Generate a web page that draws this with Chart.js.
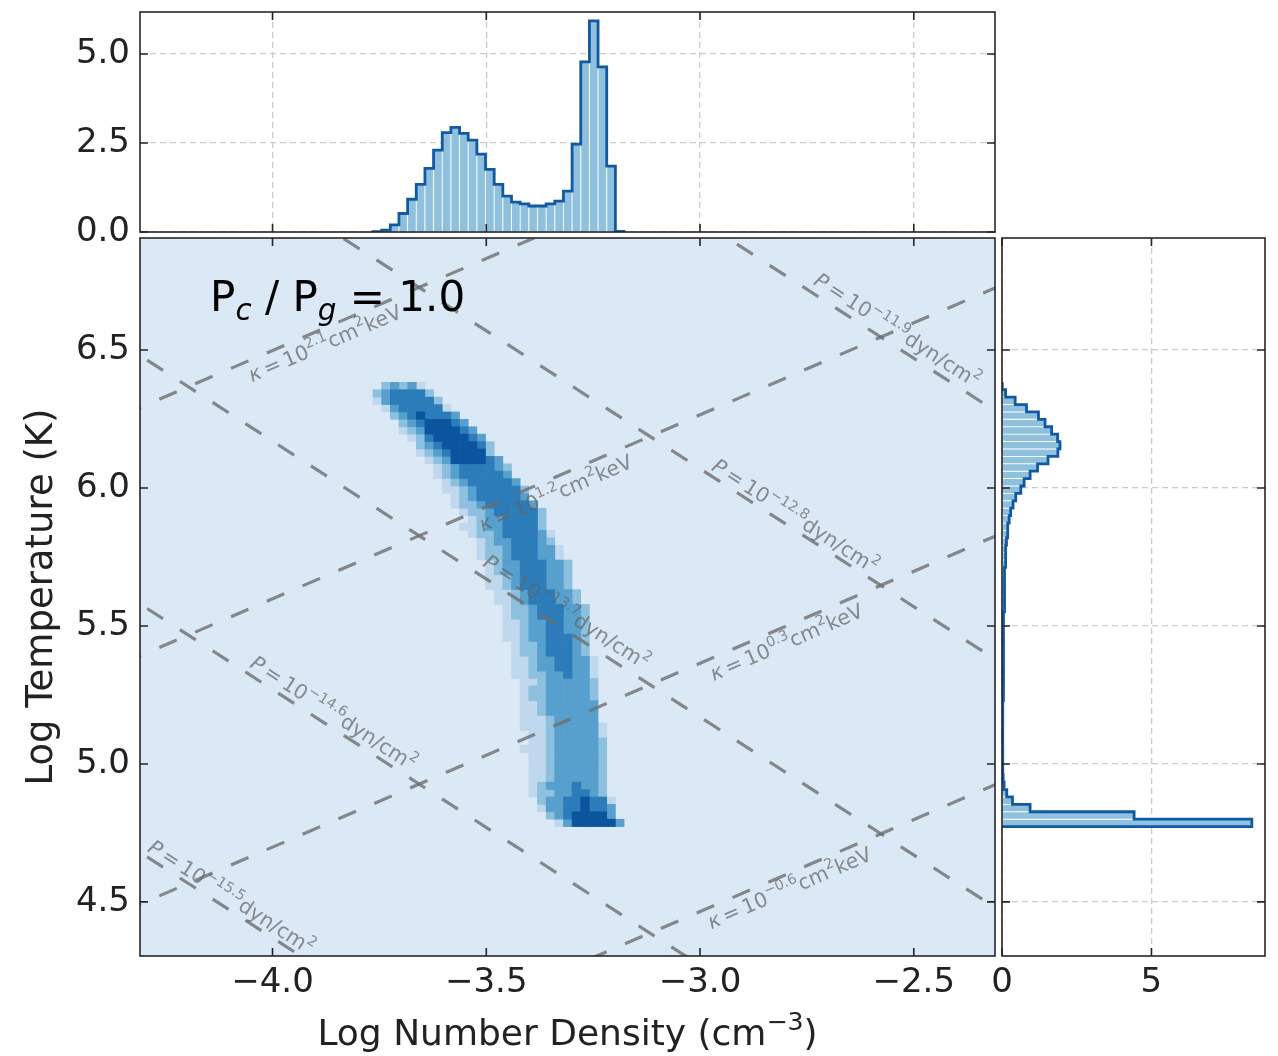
<!DOCTYPE html>
<html>
<head>
<meta charset="utf-8">
<title>Pc/Pg = 1.0 phase diagram</title>
<script src="https://cdn.jsdelivr.net/npm/chart.js@4.4.1/dist/chart.umd.min.js"></script>
<style>
  html, body { margin: 0; padding: 0; background: #fff; }
  #fig { position: relative; width: 1278px; height: 1056px; overflow: hidden; }
  canvas { position: absolute; }
</style>
</head>
<body>
<div id="fig">
  <canvas id="topHist" width="1000" height="262" style="left:0;top:0"></canvas>
  <canvas id="main" width="1000" height="826" style="left:0;top:230px"></canvas>
  <canvas id="rightHist" width="303" height="826" style="left:975px;top:230px"></canvas>
</div>
<script>
// Joint plot: log density vs log temperature, with marginal histograms
// and isobars / isentropes drawn as dashed guide lines.

// ---- bins ----
const xEdges = [-3.765, -3.74475, -3.7245, -3.70425, -3.684, -3.66375, -3.6435, -3.62325, -3.603, -3.58275,
  -3.5625, -3.54225, -3.522, -3.50175, -3.4815, -3.46125, -3.441, -3.42075, -3.4005, -3.38025,
  -3.36, -3.33975, -3.3195, -3.29925, -3.279, -3.25875, -3.2385, -3.21825, -3.198, -3.17775];
const yEdges = [4.7730, 4.7998, 4.8267, 4.8535, 4.8803, 4.9072, 4.9340, 4.9608, 4.9877, 5.0145,
  5.0413, 5.0682, 5.0950, 5.1218, 5.1487, 5.1755, 5.2023, 5.2292, 5.2560, 5.2828,
  5.3097, 5.3365, 5.3633, 5.3902, 5.4170, 5.4438, 5.4707, 5.4975, 5.5243, 5.5512,
  5.5780, 5.6048, 5.6317, 5.6585, 5.6853, 5.7122, 5.7390, 5.7658, 5.7927, 5.8195,
  5.8463, 5.8732, 5.9000, 5.9268, 5.9537, 5.9805, 6.0073, 6.0342, 6.0610, 6.0878,
  6.1147, 6.1415, 6.1683, 6.1952, 6.2220, 6.2488, 6.2757, 6.3025, 6.3293, 6.3562, 6.3830];

// ---- marginal densities ----
const topHist = [0.01, 0.05, 0.2, 0.52, 0.92, 1.34, 1.79, 2.30, 2.79, 2.94,
  2.77, 2.58, 2.19, 1.76, 1.34, 1.01, 0.84, 0.79, 0.73, 0.73,
  0.79, 0.87, 1.15, 2.47, 4.78, 5.93, 4.64, 1.85, 0.02];
// from the lowest temperature bin upwards
const rightHist = [8.36, 4.42, 0.94, 0.35, 0.16, 0.07, 0.04, 0.03, 0.02, 0.02,
  0.02, 0.02, 0.025, 0.025, 0.03, 0.03, 0.03, 0.035, 0.035, 0.04,
  0.04, 0.045, 0.045, 0.05, 0.05, 0.055, 0.06, 0.06, 0.065, 0.07,
  0.075, 0.08, 0.085, 0.09, 0.10, 0.11, 0.12, 0.13, 0.15, 0.17,
  0.2, 0.24, 0.29, 0.37, 0.46, 0.63, 0.74, 0.94, 1.19, 1.54,
  1.87, 1.94, 1.86, 1.66, 1.44, 1.22, 0.82, 0.44, 0.12, 0.02];

// ---- 2D histogram: colour level per cell, rows from the top (hottest) down ----
// [first column with counts, levels 1..5 from there]
const heatRows = [
  [1, '23231'], [0, '2344442'], [0, '13444442'], [1, '13444441'], [2, '23454443'],
  [3, '23455543'], [3, '123555543'], [4, '124555543'], [5, '234555542'], [5, '123455552'],
  [6, '123555543'], [7, '123444432'], [7, '123444443'], [8, '123444443'], [8, '1123444442'],
  [9, '123444443'], [9, '1223444443'], [10, '1223444442'], [11, '123344442'], [10, '1123344442'],
  [11, '1223444431'], [12, '123344432'], [12, '1223444331'], [12, '1223444331'], [13, '1233444332'],
  [13, '1233444332'], [13, '1123444332'], [13, '1123444332'], [14, '1123444332'], [14, '1123444332'],
  [15, '1223444332'], [15, '1223444332'], [15, '1123344332'], [15, '1123344332'], [15, '1123344432'],
  [16, '122344432'], [16, '122344432'], [16, '1123344331'], [16, '1123344331'], [16, '1122334331'],
  [17, '112333332'], [17, '122333332'], [17, '122333332'], [17, '112333333'], [17, '112333333'],
  [17, '111233333'], [17, '1112333331'], [18, '112333331'], [18, '112333332'], [17, '1112333332'],
  [18, '112333332'], [18, '112333332'], [18, '112333332'], [18, '112333332'], [18, '123334332'],
  [18, '122334432'], [19, '233445441'], [19, '133445443'], [20, '23455553'], [21, '13555553']
];
const levelColors = ['#bfd8ed', '#8cc0de', '#57a0ce', '#2c7cba', '#0b559f'];

// ---- guide lines ----
const pressureLogs = [-11.9, -12.8, -13.7, -14.6, -15.5];   // log P [dyn/cm^2]
const entropyLogs = [2.1, 1.2, 0.3, -0.6];                   // log K [cm^2 keV]
const pLabelPos = [[-2.538, 6.572], [-2.777, 5.899], [-3.312, 5.551], [-3.857, 5.185], [-4.096, 4.518]];
const kLabelPos = [[-3.878, 6.525], [-3.338, 5.982], [-2.798, 5.442], [-2.791, 4.551]];

// ---- axes ----
const xRange = [-4.31, -2.31];
const yRange = [4.304, 6.906];
const xTicks = [-4.0, -3.5, -3.0, -2.5];
const yTicks = [4.5, 5.0, 5.5, 6.0, 6.5];
const topTicks = [0, 2.5, 5.0];
const rightTicks = [0, 5];

const FONT = '"DejaVu Sans", "Liberation Sans", sans-serif';
const INK = '#222222';
Chart.defaults.font.family = FONT;
Chart.defaults.color = INK;

const fmt1 = v => v.toFixed(1).replace('-', '\u2212');
const setTicks = arr => s => { s.ticks = arr.map(v => ({ value: v })); };
// fixed axis boxes so the three panels line up
const fitX = h => s => { s.height = h; s.paddingLeft = 0; s.paddingRight = 0; };
const fitY = w => s => { s.width = w; s.paddingTop = 0; s.paddingBottom = 0; };
const isobar = lp => x => lp + 15.87 - x;              // log T for P = n k T
const isentrope = lk => x => lk + 7.065 + 2 * x / 3;   // log T for K = kT / n^(2/3)

// background fill + frame with inward ticks on all four sides
const frame = {
  id: 'frame',
  beforeDraw(chart, args, opts) {
    if (!opts.bg) return;
    const a = chart.chartArea, ctx = chart.ctx;
    ctx.save();
    ctx.fillStyle = opts.bg;
    ctx.fillRect(a.left, a.top, a.right - a.left, a.bottom - a.top);
    ctx.restore();
  },
  afterDraw(chart) {
    const a = chart.chartArea, ctx = chart.ctx;
    const sx = chart.scales.x, sy = chart.scales.y;
    const len = 8;
    ctx.save();
    ctx.strokeStyle = '#262626';
    ctx.lineWidth = 1.6;
    ctx.beginPath();
    sx.ticks.forEach(t => {
      const p = sx.getPixelForValue(t.value);
      ctx.moveTo(p, a.bottom); ctx.lineTo(p, a.bottom - len);
      ctx.moveTo(p, a.top); ctx.lineTo(p, a.top + len);
    });
    sy.ticks.forEach(t => {
      const p = sy.getPixelForValue(t.value);
      ctx.moveTo(a.left, p); ctx.lineTo(a.left + len, p);
      ctx.moveTo(a.right, p); ctx.lineTo(a.right - len, p);
    });
    ctx.stroke();
    ctx.strokeRect(a.left, a.top, a.right - a.left, a.bottom - a.top);
    ctx.restore();
  }
};

// text made of pieces with their own size / rise / slant
function drawRich(ctx, parts, base, align) {
  let w = 0;
  const m = parts.map(p => {
    const font = (p[3] ? 'italic ' : '') + (base * (p[1] || 1)).toFixed(1) + 'px ' + FONT;
    ctx.font = font;
    const pw = ctx.measureText(p[0]).width;
    w += pw;
    return { t: p[0], font, pw, dy: (p[2] || 0) * base };
  });
  let cx = align === 'left' ? 0 : -w / 2;
  m.forEach(p => { ctx.font = p.font; ctx.fillText(p.t, cx, p.dy); cx += p.pw; });
}

const annotations = {
  id: 'annotations',
  afterDatasetsDraw(chart) {
    const { ctx, chartArea: a } = chart;
    const sx = chart.scales.x, sy = chart.scales.y;
    const angle = f => Math.atan2(sy.getPixelForValue(f(-3)) - sy.getPixelForValue(f(-4)),
      sx.getPixelForValue(-3) - sx.getPixelForValue(-4));
    ctx.save();
    ctx.beginPath();
    ctx.rect(a.left, a.top, a.right - a.left, a.bottom - a.top);
    ctx.clip();
    ctx.textBaseline = 'alphabetic';
    ctx.fillStyle = 'rgba(100,100,100,0.72)';
    const base = 20.5;
    entropyLogs.forEach((lk, i) => {
      ctx.save();
      ctx.translate(sx.getPixelForValue(kLabelPos[i][0]), sy.getPixelForValue(kLabelPos[i][1]));
      ctx.rotate(angle(isentrope(lk)));
      ctx.translate(0, base * 0.35);
      drawRich(ctx, [['\u03ba', 1, 0, true], ['\u2009=\u200910', 1], [fmt1(lk), 0.7, -0.45],
        ['cm', 1], ['2', 0.7, -0.45], ['keV', 1]], base);
      ctx.restore();
    });
    pressureLogs.forEach((lp, i) => {
      ctx.save();
      ctx.translate(sx.getPixelForValue(pLabelPos[i][0]), sy.getPixelForValue(pLabelPos[i][1]));
      ctx.rotate(angle(isobar(lp)));
      ctx.translate(0, base * 0.35);
      drawRich(ctx, [['P', 1, 0, true], ['\u2009=\u200910', 1], [fmt1(lp), 0.7, -0.45],
        ['dyn/cm', 1], ['2', 0.7, -0.45]], base);
      ctx.restore();
    });
    ctx.fillStyle = '#000';
    ctx.save();
    ctx.translate(a.left + 0.082 * (a.right - a.left), a.top + 0.1017 * (a.bottom - a.top));
    drawRich(ctx, [['P', 1], ['c', 0.7, 0.22, true], [' / ', 1], ['P', 1], ['g', 0.7, 0.22, true],
      [' = 1.0', 1]], 42, 'left');
    ctx.restore();
    ctx.restore();

    // x axis title with a real superscript
    ctx.save();
    ctx.fillStyle = INK;
    ctx.textBaseline = 'alphabetic';
    ctx.translate((a.left + a.right) / 2, chart.height - 11);
    drawRich(ctx, [['Log Number Density (cm', 1], ['\u22123', 0.7, -0.42], [')', 1]], 36);
    ctx.restore();
  }
};

const gridStyle = { display: true, drawTicks: false, color: '#cccccc', lineWidth: 1.3, offset: false };
const noGrid = { display: false, drawTicks: false, offset: false };
const tickFont = { size: 34 };

// ---------- top marginal ----------
const topOutline = [{ x: xEdges[0], y: 0 }];
topHist.forEach((h, i) => { topOutline.push({ x: xEdges[i], y: h }, { x: xEdges[i + 1], y: h }); });
topOutline.push({ x: xEdges[xEdges.length - 1], y: 0 });

new Chart(document.getElementById('topHist'), {
  type: 'bar',
  data: {
    datasets: [
      { type: 'line', data: topOutline, borderColor: '#1259a4', borderWidth: 2.8, pointRadius: 0,
        fill: false, tension: 0, borderJoinStyle: 'miter', order: 0 },
      { type: 'bar', data: topHist.map((h, i) => ({ x: (xEdges[i] + xEdges[i + 1]) / 2, y: h })),
        backgroundColor: '#8fc1de', borderColor: '#ffffff',
        borderWidth: { left: 0.8, right: 0.8, top: 0, bottom: 0 },
        barPercentage: 1, categoryPercentage: 1, order: 1 }
    ]
  },
  options: {
    responsive: false, animation: false,
    layout: { padding: { top: 12, right: 5, left: 0, bottom: 0 } },
    plugins: { legend: { display: false }, tooltip: { enabled: false }, frame: {} },
    scales: {
      x: { type: 'linear', min: xRange[0], max: xRange[1], offset: false,
        afterBuildTicks: setTicks(xTicks), afterFit: fitX(30),
        ticks: { display: false }, grid: gridStyle, border: { display: false, dash: [6, 4] } },
      y: { type: 'linear', min: 0, max: 6.18, offset: false, beginAtZero: false,
        afterBuildTicks: setTicks(topTicks), afterFit: fitY(140),
        ticks: { font: tickFont, padding: 10, callback: v => fmt1(v) },
        grid: gridStyle, border: { display: false, dash: [6, 4] } }
    }
  },
  plugins: [frame]
});

// ---------- main panel ----------
const heatSets = levelColors.map((c, li) => ({
  type: 'bar', indexAxis: 'y', label: 'level ' + (li + 1), data: [],
  backgroundColor: c, borderWidth: 0, grouped: false,
  barPercentage: 1, categoryPercentage: 1, order: 10 - li
}));
heatRows.forEach(([start, levels], k) => {
  const b = heatRows.length - 1 - k;
  const yc = (yEdges[b] + yEdges[b + 1]) / 2;
  for (let j = 0; j < levels.length; j++) {
    const lv = +levels[j], i = start + j;
    if (lv) heatSets[lv - 1].data.push({ y: yc, x: [xEdges[i], xEdges[i + 1]] });
  }
});

const guide = f => ({
  type: 'line', data: [-4.6, -2.0].map(x => ({ x, y: f(x) })),
  borderColor: 'rgba(110,110,110,0.8)', borderWidth: 3.2, borderDash: [19, 20],
  pointRadius: 0, fill: false, tension: 0, clip: 0, order: 0
});

new Chart(document.getElementById('main'), {
  type: 'bar',
  data: {
    datasets: [
      ...pressureLogs.map(lp => guide(isobar(lp))),
      ...entropyLogs.map(lk => guide(isentrope(lk))),
      ...heatSets
    ]
  },
  options: {
    responsive: false, animation: false,
    layout: { padding: { top: 8, right: 5, left: 0, bottom: 0 } },
    plugins: { legend: { display: false }, tooltip: { enabled: false }, frame: { bg: '#dbe9f6' } },
    scales: {
      x: { type: 'linear', min: xRange[0], max: xRange[1], offset: false,
        afterBuildTicks: setTicks(xTicks), afterFit: fitX(100),
        ticks: { font: tickFont, padding: 7, callback: v => fmt1(v) },
        grid: noGrid, border: { display: false } },
      y: { type: 'linear', min: yRange[0], max: yRange[1], offset: false, beginAtZero: false,
        afterBuildTicks: setTicks(yTicks), afterFit: fitY(140),
        ticks: { font: tickFont, padding: 10, callback: v => fmt1(v) },
        grid: noGrid, border: { display: false },
        title: { display: true, text: 'Log Temperature (K)', font: { size: 37 },
          padding: { top: 20, bottom: 0 } } }
    }
  },
  plugins: [frame, annotations]
});

// ---------- right marginal ----------
const rightOutline = [{ x: 0, y: yEdges[0] }];
rightHist.forEach((h, k) => { rightOutline.push({ x: h, y: yEdges[k] }, { x: h, y: yEdges[k + 1] }); });
rightOutline.push({ x: 0, y: yEdges[yEdges.length - 1] });

new Chart(document.getElementById('rightHist'), {
  type: 'bar',
  data: {
    datasets: [
      { type: 'line', data: rightOutline, borderColor: '#1259a4', borderWidth: 2.8, pointRadius: 0,
        fill: false, tension: 0, borderJoinStyle: 'miter', order: 0 },
      { type: 'bar', indexAxis: 'y',
        data: rightHist.map((h, k) => ({ y: (yEdges[k] + yEdges[k + 1]) / 2, x: h })),
        backgroundColor: '#8fc1de', borderColor: '#ffffff',
        borderWidth: { top: 0.8, bottom: 0.8, left: 0, right: 0 },
        barPercentage: 1, categoryPercentage: 1, order: 1 }
    ]
  },
  options: {
    responsive: false, animation: false,
    layout: { padding: { top: 8, right: 13, left: 27, bottom: 0 } },
    plugins: { legend: { display: false }, tooltip: { enabled: false }, frame: {} },
    scales: {
      x: { type: 'linear', min: 0, max: 8.8, offset: false, beginAtZero: false,
        afterBuildTicks: setTicks(rightTicks), afterFit: fitX(100),
        ticks: { font: tickFont, padding: 7, callback: v => String(v) },
        grid: gridStyle, border: { display: false, dash: [6, 4] } },
      y: { type: 'linear', min: yRange[0], max: yRange[1], offset: false, beginAtZero: false,
        afterBuildTicks: setTicks(yTicks), afterFit: fitY(0),
        ticks: { display: false }, grid: gridStyle, border: { display: false, dash: [6, 4] } }
    }
  },
  plugins: [frame]
});
</script>
</body>
</html>
